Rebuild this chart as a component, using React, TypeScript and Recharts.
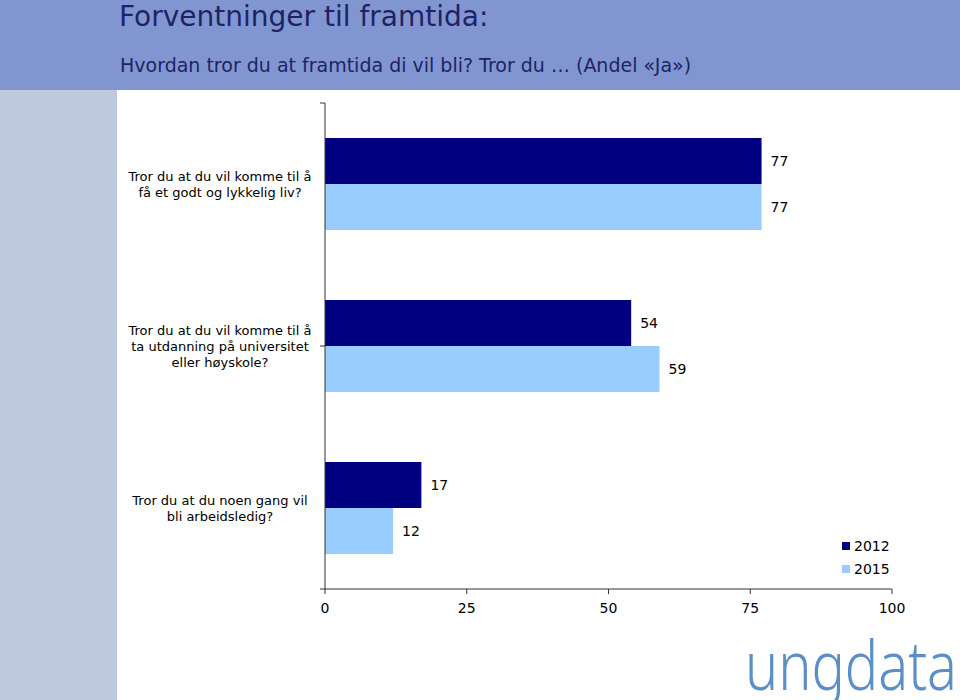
import React from 'react';
import { BarChart, Bar, XAxis, YAxis, LabelList, Legend } from 'recharts';

const title = 'Forventninger til framtida:';
const subtitle = 'Hvordan tror du at framtida di vil bli? Tror du … (Andel «Ja»)';

const categories = [
  'Tror du at du vil komme til å få et godt og lykkelig liv?',
  'Tror du at du vil komme til å ta utdanning på universitet eller høyskole?',
  'Tror du at du noen gang vil bli arbeidsledig?',
];
const categoryLines = [
  ['Tror du at du vil komme til å', 'få et godt og lykkelig liv?'],
  ['Tror du at du vil komme til å', 'ta utdanning på universitet', 'eller høyskole?'],
  ['Tror du at du noen gang vil', 'bli arbeidsledig?'],
];
const series2012 = [77, 54, 17];
const series2015 = [77, 59, 12];
const seriesNames = ['2012', '2015'];
const xTicks = [0, 25, 50, 75, 100];
const boundaryTicks = [0, 1, 2, 3];

const COLOR_2012 = '#000080';
const COLOR_2015 = '#99CCFF';
const FONT = '"DejaVu Sans", Verdana, sans-serif';

const data = categories.map((c, i) => ({
  category: c,
  y2012: series2012[i],
  y2015: series2015[i],
}));

const CategoryTick = (props: any) => {
  const { y, payload } = props;
  const idx = categories.indexOf(payload.value);
  const lines = categoryLines[idx] || [String(payload.value)];
  const lh = 16;
  const start = y - ((lines.length - 1) * lh) / 2;
  return (
    <text x={220} y={start} textAnchor="middle" fontFamily={FONT} fontSize={13} fill="#000">
      {lines.map((l: string, i: number) => (
        <tspan key={i} x={220} y={start + i * lh} dy="0.36em">
          {l}
        </tspan>
      ))}
    </text>
  );
};

const EmptyTick = () => <g />;

const LegendContent = () => (
  <div style={{ fontFamily: FONT, fontSize: 14, color: '#000' }}>
    {seriesNames.map((n, i) => (
      <div key={n} style={{ display: 'flex', alignItems: 'center', height: 23 }}>
        <span
          style={{
            display: 'inline-block',
            width: 8,
            height: 8,
            background: i === 0 ? COLOR_2012 : COLOR_2015,
            marginRight: 4,
          }}
        />
        <span>{n}</span>
      </div>
    ))}
  </div>
);

export default function App() {
  return (
    <div style={{ position: 'absolute', left: 0, top: 0, width: 960, height: 700, background: '#fff', overflow: 'hidden' }}>
      <div style={{ position: 'absolute', left: 0, top: 0, width: 960, height: 90, background: '#8196D0' }} />
      <div style={{ position: 'absolute', left: 0, top: 90, width: 117, height: 610, background: '#BFC9DD' }} />
      <div style={{ position: 'absolute', left: 119, top: 0, fontFamily: FONT, fontSize: 28, color: '#1E2366', whiteSpace: 'nowrap' }}>
        {title}
      </div>
      <div style={{ position: 'absolute', left: 120, top: 54, fontFamily: FONT, fontSize: 19, color: '#1E2366', whiteSpace: 'nowrap' }}>
        {subtitle}
      </div>
      <div style={{ position: 'absolute', left: 0, top: 0 }}>
        <BarChart
          width={960}
          height={700}
          data={data}
          layout="vertical"
          margin={{ top: 103, right: 68, left: 323, bottom: 81 }}
          barGap={0}
          barSize={46}
        >
          <XAxis
            type="number"
            domain={[0, 100]}
            ticks={xTicks}
            height={30}
            tickSize={5}
            tickMargin={9}
            axisLine={{ stroke: '#333' }}
            tickLine={{ stroke: '#333' }}
            tick={{ fill: '#000', fontFamily: FONT, fontSize: 14 }}
            interval={0}
          />
          <YAxis
            yAxisId="cat"
            type="category"
            dataKey="category"
            width={1}
            axisLine={false}
            tickLine={false}
            tick={CategoryTick}
            interval={0}
          />
          <YAxis
            yAxisId="bounds"
            type="number"
            domain={[0, 3]}
            ticks={boundaryTicks}
            width={1}
            tickSize={5}
            tick={EmptyTick}
            axisLine={{ stroke: '#333' }}
            tickLine={{ stroke: '#333' }}
            interval={0}
          />
          <Bar yAxisId="cat" dataKey="y2012" name={seriesNames[0]} fill={COLOR_2012} isAnimationActive={false}>
            <LabelList dataKey="y2012" position="right" offset={9} fill="#000" fontFamily={FONT} fontSize={14} />
          </Bar>
          <Bar yAxisId="cat" dataKey="y2015" name={seriesNames[1]} fill={COLOR_2015} isAnimationActive={false}>
            <LabelList dataKey="y2015" position="right" offset={9} fill="#000" fontFamily={FONT} fontSize={14} />
          </Bar>
          <Legend
            layout="vertical"
            align="center"
            verticalAlign="middle"
            content={<LegendContent />}
            wrapperStyle={{ left: 842, top: 534, width: 80 }}
          />
        </BarChart>
      </div>
      <svg style={{ position: 'absolute', left: 0, top: 0 }} width={960} height={700} pointerEvents="none">
        <text
          x={745}
          y={690}
          fontFamily='"Noto Sans", sans-serif'
          fontWeight={300}
          fontSize={68}
          fill="#5C8FC8"
          textLength={212}
          lengthAdjust="spacingAndGlyphs"
        >
          ungdata
        </text>
      </svg>
    </div>
  );
}
